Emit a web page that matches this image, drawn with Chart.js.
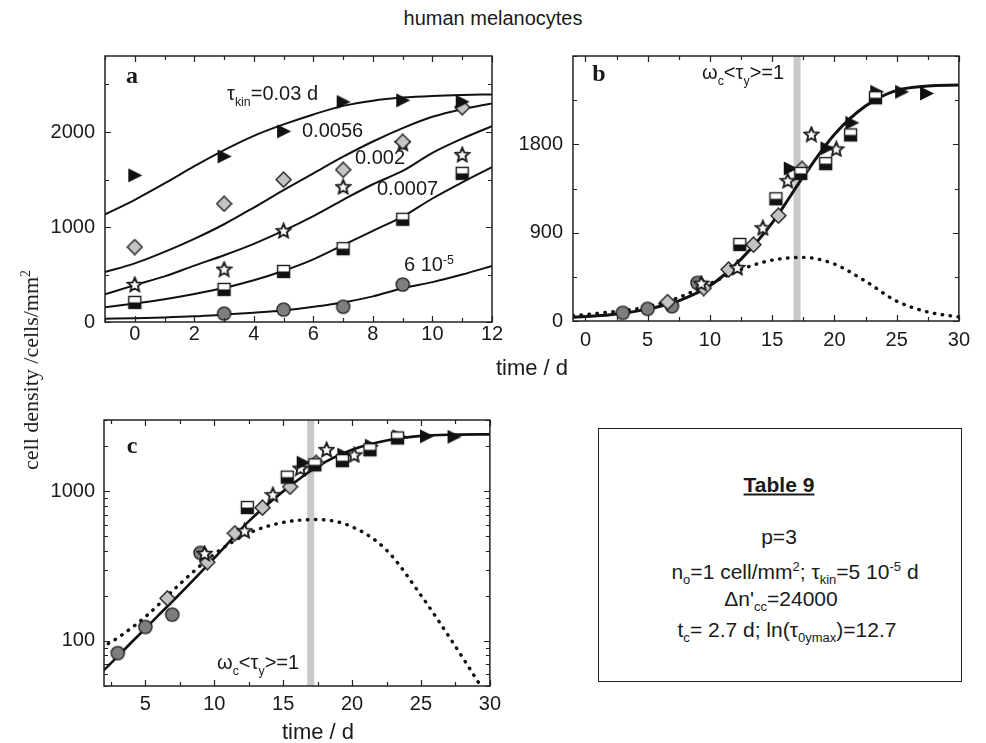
<!DOCTYPE html>
<html>
<head>
<meta charset="utf-8">
<script src="https://cdn.jsdelivr.net/npm/chart.js@4.4.1/dist/chart.umd.min.js"></script>
<style>
  body { margin: 0; width: 986px; height: 743px; position: relative; overflow: hidden; background: #fff;
         font-family: "Liberation Sans", Arial, Helvetica, sans-serif; color: #1a1a1a; }
  canvas { position: absolute; }
  .t { position: absolute; white-space: nowrap; line-height: 1; transform: translate(0, -50%); font-size: 20px; }
  .c { transform: translate(-50%, -50%); }
  .serif { font-family: "Liberation Serif", "Times New Roman", serif; }
  .letter { font-family: "Liberation Serif", "Times New Roman", serif; font-weight: bold; font-size: 24px; }
  sub { font-size: 0.62em; vertical-align: -0.45em; line-height: 0; }
  sup { font-size: 0.62em; vertical-align: 0.6em; line-height: 0; }
  .box { position: absolute; left: 598px; top: 428px; width: 364px; height: 254px; border: 1.5px solid #222; box-sizing: border-box; }
  .box .t { font-size: 21px; }
</style>
</head>
<body>
<canvas id="chartA" width="10" height="10"></canvas>
<canvas id="chartB" width="10" height="10"></canvas>
<canvas id="chartC" width="10" height="10"></canvas>

<div class="t c" style="left:493px; top:18px;">human melanocytes</div>
<div class="t serif" style="left:31px; top:370px; font-size:22px; transform:translate(-50%,-50%) rotate(-90deg);">cell density /cells/mm<sup>2</sup></div>
<div class="t c" style="left:532px; top:368px; font-size:22px;">time / d</div>
<div class="t c" style="left:318px; top:732px; font-size:22px;">time / d</div>

<div class="t c letter" style="left:132px; top:75px;">a</div>
<div class="t c letter" style="left:599px; top:73px;">b</div>
<div class="t c letter" style="left:132px; top:445px;">c</div>

<div class="t" style="left:227px; top:93px;">τ<sub>kin</sub>=0.03 d</div>
<div class="t" style="left:302px; top:130px;">0.0056</div>
<div class="t" style="left:355px; top:157px;">0.002</div>
<div class="t" style="left:377px; top:188px;">0.0007</div>
<div class="t" style="left:404px; top:264px;">6 10<sup>-5</sup></div>

<div class="t" style="left:702px; top:72px;">ω<sub>c</sub>&lt;τ<sub>y</sub>&gt;=1</div>
<div class="t" style="left:217px; top:662px;">ω<sub>c</sub>&lt;τ<sub>y</sub>&gt;=1</div>

<div class="box">
  <div class="t c" style="left:180px; top:55px; font-weight:bold; text-decoration:underline;">Table 9</div>
  <div class="t c" style="left:180px; top:107px;">p=3</div>
  <div class="t c" style="left:196px; top:142px;">n<sub>o</sub>=1 cell/mm<sup>2</sup>; τ<sub>kin</sub>=5 10<sup>-5</sup> d</div>
  <div class="t c" style="left:182px; top:169px;">Δn'<sub>cc</sub>=24000</div>
  <div class="t c" style="left:188px; top:200px;">t<sub>c</sub>= 2.7 d; ln(τ<sub>0ymax</sub>)=12.7</div>
</div>

<script>
// panel a: measured cell densities (t = days)
const aTimes = [0, 3, 5, 7, 9, 11]
const aTri = [1544, 1743, 2007, 2316, 2333, 2318]
const aDia = [789, 1245, 1499, 1602, 1897, 2260]
const aStar = [395, 556, 961, 1424, 1880, 1762]
const aSq = [206, 343, 532, 772, 1081, 1565]
const aCircTimes = [3, 5, 7, 9]
const aCirc = [88, 130, 160, 394]

// panel a: fitted curves, read at each day
const aCurveT = [-1, 0, 1, 2, 3, 4, 5, 6, 7, 8, 9, 10, 11, 12]
const aCurve003 = [1132, 1286, 1458, 1640, 1810, 1960, 2080, 2185, 2275, 2330, 2362, 2380, 2390, 2395]
const aCurve0056 = [525, 617, 738, 875, 1029, 1205, 1389, 1565, 1740, 1900, 2041, 2160, 2240, 2300]
const aCurve002 = [292, 388, 480, 593, 703, 823, 961, 1115, 1286, 1450, 1590, 1780, 1930, 2062]
const aCurve0007 = [154, 195, 240, 295, 360, 440, 540, 660, 810, 960, 1110, 1300, 1470, 1630]
const aCurve6e5 = [34, 40, 48, 60, 78, 98, 122, 160, 206, 270, 355, 420, 500, 590]

// panels b and c: shifted data (same points in both)
const bcCircT = [3.0, 5.0, 6.95, 9.0]
const bcCirc = [83, 124, 150, 388]
const bcDiaT = [6.6, 9.5, 11.5, 13.5, 15.5, 17.4]
const bcDia = [193, 336, 525, 778, 1073, 1550]
const bcStarT = [9.3, 12.2, 14.25, 16.25, 18.15, 20.15]
const bcStar = [385, 545, 950, 1430, 1903, 1753]
const bcSqT = [12.4, 15.3, 17.3, 19.3, 21.3, 23.3]
const bcSq = [780, 1245, 1504, 1604, 1896, 2275]
const bcTriT = [16.45, 19.4, 21.4, 23.4, 25.4, 27.4]
const bcTri = [1554, 1760, 2019, 2335, 2335, 2318]

// panels b and c: model curve and its bell-shaped part
const bcSolidT = [-1, 0, 2, 3, 4, 5, 6, 7.5, 10, 12.5, 15, 17.5, 20, 22.5, 25, 27.5, 30]
const bcSolid = [38, 45, 64, 79, 98, 121, 150, 206, 358, 630, 1000, 1470, 1900, 2190, 2350, 2395, 2405]
const bcDottedT = [-1, 0, 2, 3, 5, 7.5, 10, 12.5, 15, 17.5, 20, 22.5, 25, 27.5, 30]
const bcDotted = [55, 66, 92, 105, 145, 240, 380, 525, 620, 648, 580, 405, 202, 92, 40]
const bcBand = 17

// tick labels
const aXTicks = [0, 2, 4, 6, 8, 10, 12]
const aYTicks = [0, 1000, 2000]
const bXTicks = [0, 5, 10, 15, 20, 25, 30]
const bYTicks = [0, 900, 1800]
const cXTicks = [5, 10, 15, 20, 25, 30]
const cYTicks = [100, 1000]

const SANS = '"Liberation Sans", Arial, Helvetica, sans-serif'
const PAD = { l: 80, t: 15, r: 15, b: 40 }

const makeMarker = (kind) => {
  const s = 17
  const c = document.createElement("canvas")
  c.width = s
  c.height = s
  const g = c.getContext("2d")
  const m = s / 2
  g.strokeStyle = "#1a1a1a"
  g.lineWidth = 1.3
  if (kind === "circle") {
    g.beginPath()
    g.arc(m, m, 6.6, 0, 2 * Math.PI)
    g.fillStyle = "#7e7e7e"
    g.fill()
    g.stroke()
  } else if (kind === "diamond") {
    g.beginPath()
    g.moveTo(m, 1)
    g.lineTo(s - 1, m)
    g.lineTo(m, s - 1)
    g.lineTo(1, m)
    g.closePath()
    g.fillStyle = "#c4c4c4"
    g.fill()
    g.stroke()
  } else if (kind === "triangle") {
    g.beginPath()
    g.moveTo(2, 1.5)
    g.lineTo(s - 1, m)
    g.lineTo(2, s - 1.5)
    g.closePath()
    g.fillStyle = "#111"
    g.fill()
  } else if (kind === "star") {
    g.beginPath()
    for (let i = 0; i < 10; i++) {
      const ang = -Math.PI / 2 + (i * Math.PI) / 5
      const rad = i % 2 ? 3.4 : 7.4
      g.lineTo(m + rad * Math.cos(ang), m + 0.6 + rad * Math.sin(ang))
    }
    g.closePath()
    g.fillStyle = "#fff"
    g.fill()
    g.lineWidth = 1.9
    g.stroke()
  } else if (kind === "square") {
    g.fillStyle = "#fff"
    g.fillRect(2.5, 2.5, 12, 12)
    g.fillStyle = "#111"
    g.fillRect(2.5, 8.5, 12, 6)
    g.lineWidth = 1.4
    g.strokeRect(2.5, 2.5, 12, 12)
  }
  return c
}

const markers = {
  circle: makeMarker("circle"),
  diamond: makeMarker("diamond"),
  triangle: makeMarker("triangle"),
  star: makeMarker("star"),
  square: makeMarker("square"),
}

const pairs = (xs, ys) => xs.map((x, i) => ({ x: x, y: ys[i] }))

const pointSet = (xs, ys, kind) => ({
  data: pairs(xs, ys),
  showLine: false,
  pointStyle: markers[kind],
  pointRadius: 7,
  order: 0,
})

const lineSet = (xs, ys, width, dotted) => ({
  data: pairs(xs, ys),
  showLine: true,
  pointRadius: 0,
  borderColor: "#111",
  borderWidth: dotted ? 3.4 : width,
  borderDash: dotted ? [0.5, 7.5] : [],
  borderCapStyle: dotted ? "round" : "butt",
  cubicInterpolationMode: "monotone",
  fill: false,
  order: 5,
})

// frame with inward ticks on all four sides, plus the grey band
const frameTicks = {
  id: "frameTicks",
  beforeDatasetsDraw(chart, args, o) {
    if (o.band == null) return
    const { ctx, chartArea: a } = chart
    const px = chart.scales.x.getPixelForValue(o.band)
    ctx.save()
    ctx.fillStyle = "#c9c9c9"
    ctx.fillRect(px - 3.5, a.top, 7, a.bottom - a.top)
    ctx.restore()
  },
  afterDatasetsDraw(chart, args, o) {
    const { ctx, chartArea: a } = chart
    const { x, y } = chart.scales
    const isMajor = (scale, v) => scale.ticks.some((t) => Math.abs(t.value - v) < 1e-6)
    const xs = []
    for (let v = Math.ceil(x.min / o.xMinor) * o.xMinor; v <= x.max + 1e-9; v += o.xMinor) xs.push(v)
    const ys = []
    if (o.yLog) {
      for (let d = 10; d <= 1000; d *= 10) {
        for (let k = 1; k <= 9; k++) if (k * d >= y.min && k * d <= y.max) ys.push(k * d)
      }
    } else {
      for (let v = 0; v <= y.max + 1e-9; v += o.yMinor) if (v >= y.min) ys.push(v)
    }
    ctx.save()
    ctx.strokeStyle = "#222"
    ctx.lineWidth = 1.2
    ctx.beginPath()
    xs.forEach((v) => {
      const p = Math.round(x.getPixelForValue(v)) + 0.5
      const len = isMajor(x, v) ? 6 : 4
      ctx.moveTo(p, a.bottom)
      ctx.lineTo(p, a.bottom - len)
      ctx.moveTo(p, a.top)
      ctx.lineTo(p, a.top + len)
    })
    ys.forEach((v) => {
      const p = Math.round(y.getPixelForValue(v)) + 0.5
      const len = isMajor(y, v) ? 6 : 4
      ctx.moveTo(a.left, p)
      ctx.lineTo(a.left + len, p)
      ctx.moveTo(a.right, p)
      ctx.lineTo(a.right - len, p)
    })
    ctx.stroke()
    ctx.lineWidth = 1.5
    ctx.strokeRect(a.left, a.top, a.right - a.left, a.bottom - a.top)
    ctx.restore()
  },
}

const axis = (type, min, max, tickList, padding, fit) => ({
  type: type,
  min: min,
  max: max,
  grid: { display: false, drawTicks: false },
  border: { display: false },
  afterBuildTicks: (s) => {
    s.ticks = tickList.map((v) => ({ value: v }))
  },
  afterFit: fit,
  ticks: {
    padding: padding,
    autoSkip: false,
    maxRotation: 0,
    color: "#1a1a1a",
    font: { family: SANS, size: 20 },
    callback: (v) => String(v),
  },
})

const panel = (id, box, xAxis, yAxis, datasets, ticksOpt) => {
  const canvas = document.getElementById(id)
  canvas.width = box.r - box.l + PAD.l + PAD.r
  canvas.height = box.b - box.t + PAD.t + PAD.b
  canvas.style.left = box.l - PAD.l + "px"
  canvas.style.top = box.t - PAD.t + "px"
  return new Chart(canvas.getContext("2d"), {
    type: "scatter",
    data: { datasets: datasets },
    options: {
      responsive: false,
      animation: false,
      layout: { padding: { top: PAD.t, right: PAD.r, left: 0, bottom: 0 } },
      plugins: { legend: { display: false }, tooltip: { enabled: false }, frameTicks: ticksOpt },
      scales: { x: xAxis, y: yAxis },
    },
    plugins: [frameTicks],
  })
}

const fitX = (s) => {
  s.height = PAD.b
}
const fitY = (s) => {
  s.width = PAD.l
}

const bcPoints = () => [
  pointSet(bcSqT, bcSq, "square"),
  pointSet(bcTriT, bcTri, "triangle"),
  pointSet(bcStarT, bcStar, "star"),
  pointSet(bcDiaT, bcDia, "diamond"),
  pointSet(bcCircT, bcCirc, "circle"),
]

panel(
  "chartA",
  { l: 105, t: 49, r: 492, b: 322 },
  axis("linear", -1, 12, aXTicks, 0, fitX),
  axis("linear", 0, 2800, aYTicks, 10, fitY),
  [
    pointSet(aTimes, aTri, "triangle"),
    pointSet(aTimes, aDia, "diamond"),
    pointSet(aTimes, aStar, "star"),
    pointSet(aTimes, aSq, "square"),
    pointSet(aCircTimes, aCirc, "circle"),
    lineSet(aCurveT, aCurve003, 2),
    lineSet(aCurveT, aCurve0056, 2),
    lineSet(aCurveT, aCurve002, 2),
    lineSet(aCurveT, aCurve0007, 2),
    lineSet(aCurveT, aCurve6e5, 2),
  ],
  { xMinor: 1, yMinor: 500 }
)

panel(
  "chartB",
  { l: 573, t: 49, r: 962, b: 321 },
  axis("linear", -1, 30, bXTicks, 7, fitX),
  axis("linear", 0, 2700, bYTicks, 10, fitY),
  [...bcPoints(), lineSet(bcSolidT, bcSolid, 3), lineSet(bcDottedT, bcDotted, 3, true)],
  { xMinor: 2.5, yMinor: 450, band: bcBand }
)

panel(
  "chartC",
  { l: 104, t: 414, r: 492, b: 686 },
  axis("linear", 2, 30, cXTicks, 6, fitX),
  axis("logarithmic", 50, 3000, cYTicks, 9, fitY),
  [...bcPoints(), lineSet(bcSolidT, bcSolid, 2.6), lineSet(bcDottedT, bcDotted, 3, true)],
  { xMinor: 2.5, yLog: true, band: bcBand }
)
</script>
</body>
</html>
